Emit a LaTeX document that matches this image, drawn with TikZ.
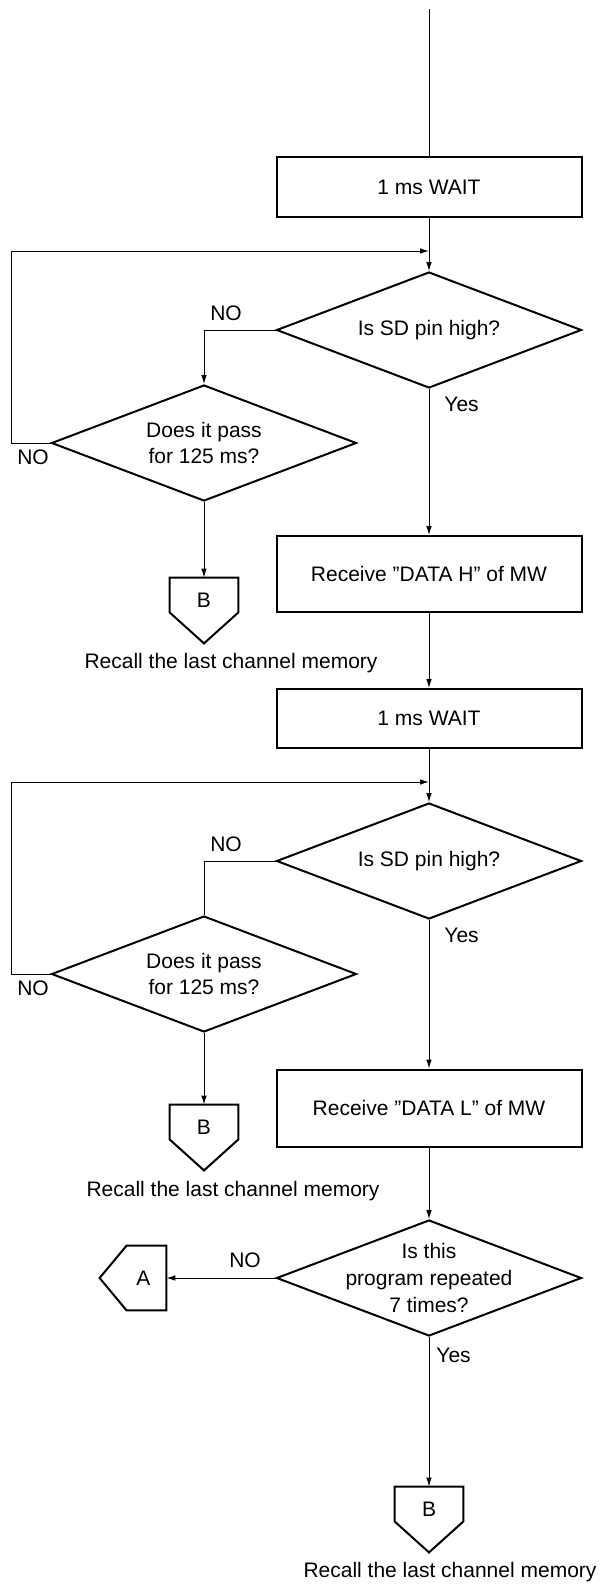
\documentclass[tikz,border=0pt]{standalone}
\usepackage{fontspec}
\setmainfont{Liberation Sans}
\usetikzlibrary{arrows.meta,shapes.geometric,calc}

\begin{document}
\begin{tikzpicture}[x=0.5pt,y=-0.5pt,
  every node/.style={font=\fontsize{10.5}{13.3}\selectfont},
  procbox/.style={draw,line width=1pt,minimum width=152.5pt,inner sep=0pt},
  decision/.style={draw,diamond,line width=1pt,minimum width=152.5pt,minimum height=58pt,inner sep=0pt},
  dtext/.style={align=center,inner sep=0pt},
  flow/.style={line width=0.5pt},
  arr/.style={flow,-{Latex[length=4.5pt,width=2.8pt]}},
  lbl/.style={inner sep=0pt},
  connsq/.style={minimum width=34pt,minimum height=17pt,inner sep=0pt},
  connline/.style={line width=1pt,line join=miter}
]
\useasboundingbox (0,0) rectangle (602,1586);

% ---------- first block: DATA H ----------
\coordinate (top) at (429,9);
\node[procbox,minimum height=30pt] (w1) at (429,187) {1 ms WAIT};
\draw[flow] (top) -- (w1.north);

\coordinate (j1) at (429,251);
\coordinate (c1) at (11,251);
\node[decision] (q1) at (429,330) {};
\node[dtext] (q1t) at (q1) {Is SD pin high?};
\draw[flow] (w1.south) -- (j1);
\draw[arr] (j1) -- (q1.north);

\node[decision] (q2) at (204,443) {};
\node[dtext] (q2t) at (q2) {Does it pass\\for 125 ms?};
\draw[arr] (q1.west) -| (q2.north);
\draw[arr] (q2.west) -| (c1) -- (j1);
\node[lbl] (no1) at (226,313) {NO};
\node[lbl] (no2) at (33,457) {NO};
\node[lbl,anchor=west] (yes1) at (444,404) {Yes};

\node[connsq] (b1) at (204,595) {};
\draw[connline] (b1.north west) -- (b1.north east) -- (b1.south east)
  -- ($(b1.south)+(0,31)$) -- (b1.south west) -- cycle;
\node[lbl] (b1t) at ($(b1.center)+(0,5)$) {B};
\draw[arr] (q2.south) -- (b1.north);
\node (r1) at (231,663) {Recall the last channel memory};

\node[procbox,minimum height=38pt] (dh) at (429,574) {Receive ''DATA H'' of MW};
\draw[arr] (q1.south) -- (dh.north);

% ---------- second block: DATA L ----------
\node[procbox,minimum height=29.5pt] (w2) at (429,718.5) {1 ms WAIT};
\draw[arr] (dh.south) -- (w2.north);

\coordinate (j2) at (429,782);
\coordinate (c2) at (11,782);
\node[decision] (q3) at (429,861) {};
\node[dtext] (q3t) at (q3) {Is SD pin high?};
\draw[flow] (w2.south) -- (j2);
\draw[arr] (j2) -- (q3.north);

\node[decision] (q4) at (204,974) {};
\node[dtext] (q4t) at (q4) {Does it pass\\for 125 ms?};
\draw[flow] (q3.west) -| (q4.north);
\draw[arr] (q4.west) -| (c2) -- (j2);
\node[lbl] (no3) at (226,844) {NO};
\node[lbl] (no4) at (33,988) {NO};
\node[lbl,anchor=west] (yes3) at (444,935) {Yes};

\node[connsq] (b2) at (204,1122) {};
\draw[connline] (b2.north west) -- (b2.north east) -- (b2.south east)
  -- ($(b2.south)+(0,31)$) -- (b2.south west) -- cycle;
\node[lbl] (b2t) at ($(b2.center)+(0,5)$) {B};
\draw[arr] (q4.south) -- (b2.north);
\node (r2) at (233,1191) {Recall the last channel memory};

\node[procbox,minimum height=38.5pt] (dl) at (429,1108) {Receive ''DATA L'' of MW};
\draw[arr] (q3.south) -- (dl.north);

% ---------- repeat check ----------
\node[decision] (q5) at (429,1278) {};
\node[dtext] (q5t) at (q5) {Is this\\program repeated\\7 times?};
\draw[arr] (dl.south) -- (q5.north);

\node[minimum width=19.5pt,minimum height=32pt,inner sep=0pt] (a) at (146.5,1278) {};
\draw[connline] (a.north east) -- (a.south east) -- (a.south west)
  -- ($(a.west)+(-27,0)$) -- (a.north west) -- cycle;
\node[lbl] (at) at ($(a.center)+(-3,0)$) {A};
\draw[arr] (q5.west) -- (a.east);
\node[lbl] (no5) at (245,1260) {NO};
\node[lbl,anchor=west] (yes5) at (436,1355) {Yes};

\node[connsq] (b3) at (429,1504) {};
\draw[connline] (b3.north west) -- (b3.north east) -- (b3.south east)
  -- ($(b3.south)+(0,31)$) -- (b3.south west) -- cycle;
\node[lbl] (b3t) at ($(b3.center)+(0,5)$) {B};
\draw[arr] (q5.south) -- (b3.north);
\node (r3) at (450,1572) {Recall the last channel memory};
\end{tikzpicture}
\end{document}
